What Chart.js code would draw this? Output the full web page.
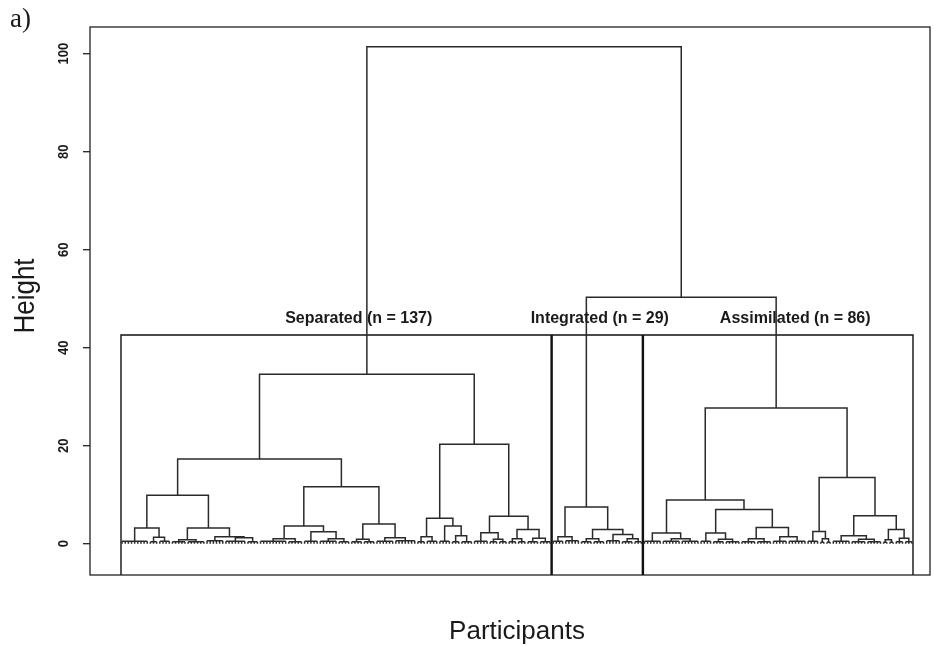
<!DOCTYPE html>
<html><head><meta charset="utf-8">
<script src="https://cdn.jsdelivr.net/npm/chart.js@4/dist/chart.umd.min.js"></script>
<style>html,body{margin:0;padding:0;background:#fff;}canvas{display:block}</style>
</head><body>
<canvas id="c" width="934" height="646"></canvas>
<script>
// ---------- DATA ----------
const clusterNames = ['Separated', 'Integrated', 'Assimilated'];
const clusterSizes = [137, 29, 86];
const cutHeight = 42.6;
const yTicks = [0, 20, 40, 60, 80, 100];
const rootHeight = 101.4;
const integratedAssimilatedHeight = 50.3;
// merge = [height, left, right]; bottom block = [height, number of leaves]
const separated = [34.6,
  [17.3,
    [9.9,
      [3.2, [0.5, 9], [1.3, [0.4, 3], [0.5, 4]]],
      [3.2, [0.8, [0.4, 5], [0.4, 6]], [1.4, [0.6, 6], [1.2, [0.5, 7], [0.4, 4]]]]],
    [11.6,
      [3.6, [1.0, [0.5, 9], [0.4, 5]], [2.45, [0.5, 5], [1.0, [0.5, 6], [0.4, 4]]]],
      [4.0, [0.9, [0.4, 4], [0.4, 4]], [1.2, [0.5, 6], [0.6, 7]]]]],
  [20.3,
    [5.2, [1.4, [0.4, 3], [0.5, 4]], [3.6, [0.5, 4], [1.6, [0.4, 3], [0.4, 4]]]],
    [5.6, [2.25, [0.5, 5], [0.9, [0.4, 3], [0.4, 3]]], [2.9, [1.0, [0.4, 3], [0.4, 3]], [1.1, [0.4, 4], [0.4, 4]]]]]];
const integrated = [7.5,
  [1.4, [0.5, 4], [0.6, 5]],
  [2.9, [1.0, [0.4, 4], [0.4, 4]], [1.9, [0.6, 5], [1.0, [0.4, 4], [0.4, 3]]]]];
const assimilated = [27.7,
  [8.9,
    [2.2, [0.5, 6], [1.0, [0.5, 6], [0.5, 6]]],
    [7.0,
      [2.2, [0.5, 4], [0.9, [0.4, 4], [0.4, 5]]],
      [3.3, [1.0, [0.4, 5], [0.4, 5]], [1.4, [0.5, 5], [0.5, 6]]]]],
  [13.5,
    [2.5, [0.5, 4], [1.0, [0.3, 2], [0.3, 2]]],
    [5.7,
      [1.6, [0.5, 6], [0.9, [0.4, 5], [0.4, 5]]],
      [2.9, [0.8, [0.3, 2], [0.3, 2]], [1.1, [0.4, 3], [0.4, 3]]]]]];

// ---------- build line paths from the tree ----------
const tree = [rootHeight, separated, [integratedAssimilatedHeight, integrated, assimilated]];
const segs = [];
function layout(node, start) {
  if (node.length === 2) {
    const h = node[0], n = node[1], first = start, last = start + n - 1;
    for (let i = first; i <= last; i++) segs.push({x: i, y: 0}, {x: i, y: h}, {x: i, y: null});
    segs.push({x: first, y: h}, {x: last, y: h}, {x: last, y: null});
    return {x: (first + last) / 2, h: h, n: n};
  }
  const h = node[0];
  const L = layout(node[1], start);
  const R = layout(node[2], start + L.n);
  segs.push({x: L.x, y: L.h}, {x: L.x, y: h}, {x: R.x, y: h}, {x: R.x, y: R.h}, {x: R.x, y: null});
  return {x: (L.x + R.x) / 2, h: h, n: L.n + R.n};
}
layout(tree, 1);

const Y_MIN = -6.39, Y_MAX = 105.45, X_MIN = -9.19, X_MAX = 257.73;
const rectPts = [];
let cum = 0;
clusterSizes.forEach(s => {
  const x1 = cum + 0.66, x2 = cum + s + 0.33;
  rectPts.push({x: x1, y: Y_MIN}, {x: x1, y: cutHeight}, {x: x2, y: cutHeight}, {x: x2, y: Y_MIN}, {x: x2, y: null});
  cum += s;
});
// label anchors (leaf units / height units)
const labelAnchors = [{x: 76.2, y: 45.0}, {x: 152.8, y: 45.0}, {x: 214.9, y: 45.0}];

const decor = {
  id: 'decor',
  afterDraw(chart) {
    const ctx = chart.ctx, a = chart.chartArea, xs = chart.scales.x, ys = chart.scales.y;
    ctx.save();
    ctx.strokeStyle = '#222'; ctx.lineWidth = 1.3;
    ctx.strokeRect(a.left, a.top, a.right - a.left, a.bottom - a.top);
    ctx.fillStyle = '#1a1a1a';
    // y ticks
    yTicks.forEach(v => {
      const y = ys.getPixelForValue(v);
      ctx.beginPath(); ctx.moveTo(a.left - 7, y); ctx.lineTo(a.left, y); ctx.stroke();
      ctx.save(); ctx.translate(64, y); ctx.rotate(-Math.PI / 2); ctx.scale(1, 1.15);
      ctx.font = 'bold 13px "Liberation Sans", Arial, sans-serif';
      ctx.textAlign = 'center'; ctx.textBaseline = 'middle';
      ctx.fillText(String(v), 0, 0); ctx.restore();
    });
    // axis titles
    ctx.save(); ctx.translate(34, 296); ctx.rotate(-Math.PI / 2); ctx.scale(1, 1.1);
    ctx.font = '26px "Liberation Sans", Arial, sans-serif';
    ctx.textAlign = 'center'; ctx.textBaseline = 'alphabetic';
    ctx.fillText('Height', 0, 0); ctx.restore();
    ctx.font = '26px "Liberation Sans", Arial, sans-serif';
    ctx.textAlign = 'center'; ctx.textBaseline = 'alphabetic';
    ctx.fillText('Participants', 517, 639);
    ctx.font = '27px "Liberation Serif", "Times New Roman", serif';
    ctx.textAlign = 'left';
    ctx.fillText('a)', 10, 27);
    // cluster labels
    ctx.font = 'bold 16px "Liberation Sans", Arial, sans-serif';
    ctx.textAlign = 'center';
    clusterNames.forEach((nm, i) => {
      ctx.fillText(nm + ' (n = ' + clusterSizes[i] + ')', xs.getPixelForValue(labelAnchors[i].x), ys.getPixelForValue(labelAnchors[i].y));
    });
    ctx.restore();
  }
};

new Chart(document.getElementById('c'), {
  type: 'scatter',
  data: {
    datasets: [
      {data: segs, showLine: true, spanGaps: false, borderColor: '#2a2a2a', borderWidth: 1.5, pointRadius: 0, clip: false},
      {data: rectPts, showLine: true, spanGaps: false, borderColor: '#111', borderWidth: 1.4, pointRadius: 0, clip: false}
    ]
  },
  options: {
    responsive: false, animation: false, devicePixelRatio: 1,
    layout: {padding: {left: 90, top: 27, right: 4, bottom: 71}},
    plugins: {legend: {display: false}, tooltip: {enabled: false}},
    events: [],
    scales: {
      x: {type: 'linear', min: X_MIN, max: X_MAX, display: false},
      y: {type: 'linear', min: Y_MIN, max: Y_MAX, display: false}
    }
  },
  plugins: [decor]
});
</script>
</body></html>
